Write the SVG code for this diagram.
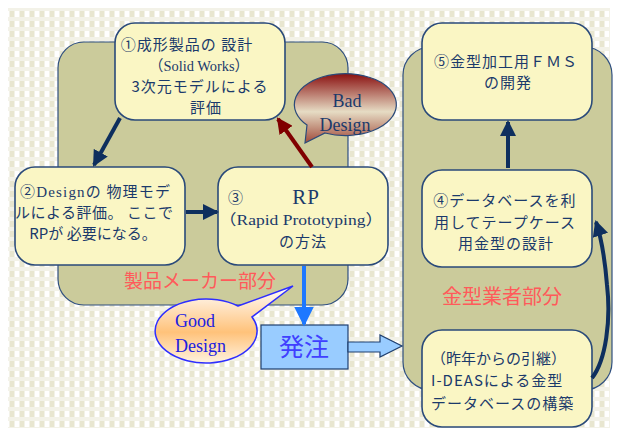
<svg xmlns="http://www.w3.org/2000/svg" width="618" height="434" viewBox="0 0 618 434">
<style>
.region{fill:#CBCB9B;stroke:#2F4F7F;stroke-width:1.2}
.box{fill:#FAF6C4;stroke:#2A4A7A;stroke-width:1.6}
.t{font-family:"Noto Sans CJK JP","Noto Sans",sans-serif;font-size:15px;letter-spacing:1px;fill:#1B3A6B}
.s{letter-spacing:0}
.c{text-anchor:middle}
.lt{font-family:"Liberation Serif","Noto Sans CJK JP",serif}
.lbl{font-family:"Noto Sans CJK JP",sans-serif;fill:#FF5A5A;text-anchor:middle}
.nv{fill:none;stroke:#0E2F5E;stroke-width:4}
</style>
<defs>
<pattern id="bg" width="10" height="10" patternUnits="userSpaceOnUse">
<rect width="10" height="10" fill="#F3F2E8"/>
<rect x="0" y="1" width="4" height="6" fill="#E8E6D0"/>
<rect x="5" y="1" width="4" height="6" fill="#FFFFFF"/>
</pattern>
<marker id="aN" markerUnits="userSpaceOnUse" markerWidth="16" markerHeight="16" viewBox="0 0 16 16" refX="14" refY="8" orient="auto"><path d="M0,0 L16,8 L0,16 z" fill="#0E2F5E"/></marker>
<marker id="aR" markerUnits="userSpaceOnUse" markerWidth="16" markerHeight="16" viewBox="0 0 16 16" refX="14" refY="8" orient="auto"><path d="M0,0 L16,8 L0,16 z" fill="#800000"/></marker>
<marker id="aB" markerUnits="userSpaceOnUse" markerWidth="20" markerHeight="20" viewBox="0 0 16 16" refX="14" refY="8" orient="auto"><path d="M0,0 L16,8 L0,16 z" fill="#1E78FF"/></marker>
<linearGradient id="gBad" x1="0" y1="0" x2="0" y2="1">
<stop offset="0" stop-color="#8A1010"/><stop offset="0.55" stop-color="#E6DCC4"/><stop offset="1" stop-color="#A04A3A"/>
</linearGradient>
<linearGradient id="gGood" x1="0" y1="0" x2="0" y2="1">
<stop offset="0" stop-color="#FFFFFF"/><stop offset="0.6" stop-color="#FFC27A"/><stop offset="1" stop-color="#FFF3E0"/>
</linearGradient>
</defs>

<rect x="8" y="8" width="602" height="420" fill="url(#bg)"/>

<g id="region-maker">
<rect class="region" x="58" y="42" width="290" height="263" rx="26" ry="26"/>
<text class="lbl" x="200" y="288" font-size="19">製品メーカー部分</text>
</g>
<g id="region-mold">
<rect class="region" x="403" y="47" width="209" height="343" rx="28" ry="28"/>
<text class="lbl" x="502" y="304" font-size="20">金型業者部分</text>
</g>

<g id="node1">
<rect class="box" x="115" y="23" width="170" height="97" rx="20" ry="20"/>
<text class="t c" x="187" y="50">①成形製品の 設計</text>
<text class="t s c" x="199" y="71"><tspan class="lt" textLength="100" lengthAdjust="spacingAndGlyphs">（Solid Works）</tspan></text>
<text class="t c" x="200" y="92">3次元モデルによる</text>
<text class="t c" x="206" y="113">評価</text>
</g>

<g id="node2">
<rect class="box" x="15" y="167" width="170" height="98" rx="20" ry="20"/>
<text class="t s c" x="95" y="197" textLength="150" lengthAdjust="spacing">②<tspan class="lt">Design</tspan>の 物理モデ</text>
<text class="t s c" x="94" y="218" textLength="158" lengthAdjust="spacing">ルによる評価。 ここで</text>
<text class="t s c" x="93" y="239">RPが 必要になる。</text>
</g>

<g id="node3">
<rect class="box" x="218" y="167" width="170" height="98" rx="20" ry="20"/>
<text class="t" x="228" y="203">③</text>
<text class="t c lt" x="306" y="204" style="font-size:21px">RP</text>
<text class="t s c" x="301" y="225"><tspan class="lt" textLength="164" lengthAdjust="spacingAndGlyphs">（Rapid Prototyping）</tspan></text>
<text class="t c" x="303" y="247">の方法</text>
</g>

<g id="node5">
<rect class="box" x="422" y="23" width="170" height="97" rx="20" ry="20"/>
<text class="t c" x="506" y="67">⑤金型加工用ＦＭＳ</text>
<text class="t c" x="508" y="88">の開発</text>
</g>

<g id="node4">
<rect class="box" x="422" y="170" width="170" height="97" rx="20" ry="20"/>
<text class="t c" x="505" y="206">④データベースを利</text>
<text class="t c" x="505" y="228">用してテープケース</text>
<text class="t c" x="506" y="249">用金型の設計</text>
</g>

<g id="node6">
<rect class="box" x="422" y="330" width="170" height="97" rx="20" ry="20"/>
<text class="t s" x="431" y="364">（昨年からの引継）</text>
<text class="t" x="431" y="386">I-DEASによる金型</text>
<text class="t" x="431" y="409">データベースの構築</text>
</g>

<g id="bad-design">
<path d="M307 125 L305 143 L325 133 A51 31 0 1 0 307 125 Z" fill="url(#gBad)" stroke="#2A4A7A" stroke-width="1.2"/>
<text class="lt" x="347" y="107" font-size="18" fill="#1B3A6B" text-anchor="middle">Bad</text>
<text class="lt" x="345" y="131" font-size="18" fill="#1B3A6B" text-anchor="middle">Design</text>
</g>

<g id="good-design">
<path d="M238 306 L293 286 L252 317 A51 32 0 1 1 238 306 Z" fill="url(#gGood)" stroke="#2E2EFF" stroke-width="1.5"/>
<text class="lt" x="175" y="327" font-size="18" fill="#2020E0">Good</text>
<text class="lt" x="175" y="352" font-size="18" fill="#2020E0">Design</text>
</g>

<g id="order">
<rect x="261" y="325" width="87" height="44" fill="#99CCFF" stroke="#1F3F6F" stroke-width="1.2"/>
<text x="304" y="356" font-family="Noto Sans CJK JP,sans-serif" font-size="25" fill="#4040FF" text-anchor="middle">発注</text>
</g>

<g id="connectors">
<path class="nv" d="M120 118 L94 165" marker-end="url(#aN)"/>
<path class="nv" d="M186 212 L217 212" marker-end="url(#aN)"/>
<path d="M312 167 L278 119" fill="none" stroke="#800000" stroke-width="4" marker-end="url(#aR)"/>
<path d="M304 266 L304 324" fill="none" stroke="#1E78FF" stroke-width="4" marker-end="url(#aB)"/>
<path class="nv" d="M508 168 L508 122" marker-end="url(#aN)"/>
<path class="nv" d="M592 378 C606 360 611 320 607 285 C605 260 602 240 596 222" marker-end="url(#aN)"/>
<path d="M348 342 L380 342 L380 335 L402 346 L380 357 L380 352 L348 352 Z" fill="#99CCFF" stroke="#1F3F6F" stroke-width="1.2"/>
</g>
</svg>
